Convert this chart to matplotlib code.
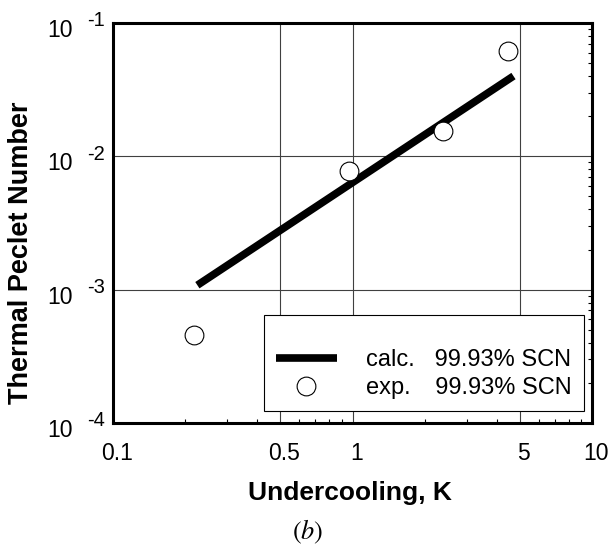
import matplotlib
matplotlib.use("Agg")
import matplotlib.pyplot as plt
import matplotlib.ticker as mticker
import matplotlib.transforms as mtransforms
import numpy as np

# calc. and exp. data for 99.93% SCN
calc_dT = [0.225, 4.7]
calc_pe = [1.08e-3, 4.0e-2]

exp_dT = [0.218, 0.967, 2.39, 4.46]
exp_pe = [4.6e-4, 7.8e-3, 1.55e-2, 6.2e-2]

x_ticks = [0.1, 0.5, 1, 5, 10]
x_labels = ["0.1", "0.5", "1", "5", "10"]
y_ticks = [1e-4, 1e-3, 1e-2, 1e-1]
y_exps = ["-4", "-3", "-2", "-1"]

plt.rcParams['font.family'] = ['Liberation Sans', 'DejaVu Sans']
plt.rcParams['mathtext.fontset'] = 'stix'

fig = plt.figure(figsize=(6.09, 5.46), dpi=100)
ax = fig.add_axes([0.1856, 0.2253, 0.7865, 0.7326])

ax.plot(calc_dT, calc_pe, color='black', linewidth=5.5, solid_capstyle='butt',
        label="calc.   99.93% SCN", zorder=3)
ax.plot(exp_dT, exp_pe, linestyle='none', marker='o', markersize=13.5,
        markerfacecolor='white', markeredgecolor='black', markeredgewidth=0.8,
        label="exp.   \u200999.93% SCN", zorder=4)

ax.set_xscale('log')
ax.set_yscale('log')
ax.set_xlim(0.1, 10)
ax.set_ylim(1e-4, 1e-1)

ax.set_xticks(x_ticks)
ax.set_xticklabels(x_labels)
ax.set_yticks(y_ticks)
ax.set_yticklabels(["10"] * len(y_ticks))

ax.xaxis.set_minor_locator(mticker.LogLocator(base=10, subs=np.arange(2, 10)))
ax.yaxis.set_minor_locator(mticker.LogLocator(base=10, subs=np.arange(2, 10)))
ax.xaxis.set_minor_formatter(mticker.NullFormatter())
ax.yaxis.set_minor_formatter(mticker.NullFormatter())

ax.tick_params(which='major', length=0, labelsize=16.5, pad=14)
ax.tick_params(axis='y', which='major', pad=29)
ax.tick_params(which='minor', direction='in', length=3, width=0.8,
               bottom=True, left=False, right=True, top=False)

# nudge tick labels like the original
for lab in ax.get_yticklabels():
    lab.set_transform(lab.get_transform() +
                      mtransforms.ScaledTranslation(0, -5 / 100, fig.dpi_scale_trans))
for lab in ax.get_xticklabels():
    lab.set_transform(lab.get_transform() +
                      mtransforms.ScaledTranslation(4 / 100, 0, fig.dpi_scale_trans))

# exponents of the y tick labels
exp_tr = mtransforms.blended_transform_factory(ax.transAxes, ax.transData) + \
    mtransforms.ScaledTranslation(0, 2 / 100, fig.dpi_scale_trans)
for yv, e in zip(y_ticks, y_exps):
    ax.text(-0.016, yv, e, transform=exp_tr, fontsize=14.5, ha='right', va='center',
            clip_on=False)

ax.grid(True, which='major', color='0.25', linewidth=0.8)

for sp in ax.spines.values():
    sp.set_linewidth(2.2)

ax.set_xlabel("Undercooling, K", fontsize=19, fontweight='bold')
ax.set_ylabel("Thermal Peclet Number", fontsize=19.5, fontweight='bold')
ax.xaxis.set_label_coords(0.494, -0.145)
ax.yaxis.set_label_coords(-0.165, 0.425)

leg = ax.legend(loc='lower right', bbox_to_anchor=(0.983, 0.03), fontsize=17,
                frameon=True, fancybox=False, edgecolor='black', framealpha=1,
                handlelength=2.6, handletextpad=1.25, labelspacing=0.25,
                borderpad=0.5, borderaxespad=0,
                title=" ", title_fontsize=13)
leg.get_frame().set_linewidth(0.8)

fig.text(0.506, 1 - 532 / 546, r"$(b)$", fontsize=19, ha='center', va='center')

fig.savefig("out.png", dpi=100)
